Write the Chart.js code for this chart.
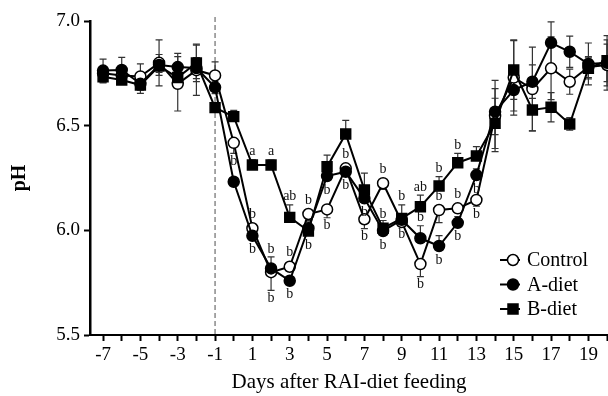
<!DOCTYPE html>
<html>
<head>
<meta charset="utf-8">
<script src="https://cdn.jsdelivr.net/npm/chart.js@4/dist/chart.umd.min.js"></script>
<style>
  html, body { margin: 0; padding: 0; background: #fff; }
  canvas { display: block; }
</style>
</head>
<body>
<canvas id="phChart" width="608" height="396"></canvas>
<script>
// days relative to RAI-diet feeding
const days = [-7, -6, -5, -4, -3, -2, -1, 0, 1, 2, 3, 4, 5, 6, 7, 8, 9, 10, 11, 12, 13, 14, 15, 16, 17, 18, 19, 20];

const controlPH = [6.75, 6.74, 6.735, 6.80, 6.70, 6.765, 6.74, 6.418, 6.01, 5.80, 5.826, 6.078, 6.10, 6.296,
    6.053, 6.225, 6.04, 5.839, 6.097, 6.105, 6.145, 6.546, 6.73, 6.675, 6.774, 6.71, 6.78, 6.79];
const aDietPH = [6.763, 6.766, 6.70, 6.79, 6.78, 6.775, 6.683, 6.232, 5.974, 5.818, 5.759, 6.01, 6.259, 6.28,
    6.153, 5.997, 6.05, 5.962, 5.925, 6.036, 6.264, 6.567, 6.67, 6.71, 6.896, 6.853, 6.795, 6.80];
const bDietPH = [6.734, 6.718, 6.694, 6.785, 6.73, 6.80, 6.586, 6.543, 6.312, 6.312, 6.062, 5.997, 6.304, 6.46,
    6.193, 6.01, 6.057, 6.113, 6.212, 6.323, 6.355, 6.511, 6.766, 6.575, 6.588, 6.508, 6.774, 6.81];

// standard errors
const controlSE = [0.03, 0.03, 0.06, 0.11, 0.13, 0.12, 0.065, 0.05, 0.055, 0.087, 0.02, 0.03, 0.04, 0.02,
    0.045, 0.03, 0.02, 0.06, 0.06, 0.02, 0.03, 0.17, 0.18, 0.2, 0.15, 0.06, 0.05, 0.1];
const aDietSE = [0.055, 0.06, 0.03, 0.05, 0.065, 0.05, 0.03, 0.02, 0.02, 0.055, 0.02, 0.03, 0.02, 0.02,
    0.02, 0.05, 0.03, 0.06, 0.05, 0.03, 0.03, 0.11, 0.1, 0.08, 0.1, 0.075, 0.1, 0.13];
const bDietSE = [0.03, 0.02, 0.04, 0.03, 0.04, 0.09, 0.02, 0.03, 0.025, 0.024, 0.06, 0.03, 0.055, 0.065,
    0.08, 0.02, 0.065, 0.055, 0.045, 0.045, 0.045, 0.12, 0.14, 0.1, 0.07, 0.03, 0.05, 0.1];

// significance letters: [day, series, letter, side]
const sigLetters = [
    [0, 'Control', 'b', 'down'],
    [1, 'B-diet', 'a', 'up'], [1, 'Control', 'b', 'up'], [1, 'A-diet', 'b', 'down'],
    [2, 'B-diet', 'a', 'up'], [2, 'A-diet', 'b', 'up'], [2, 'Control', 'b', 'down'],
    [3, 'B-diet', 'ab', 'up'], [3, 'Control', 'b', 'up'], [3, 'A-diet', 'b', 'down'],
    [4, 'Control', 'b', 'up'], [4, 'B-diet', 'b', 'down'],
    [5, 'A-diet', 'b', 'down'], [5, 'Control', 'b', 'down'],
    [6, 'Control', 'b', 'up'], [6, 'A-diet', 'b', 'down'],
    [7, 'A-diet', 'b', 'down'], [7, 'Control', 'b', 'down'],
    [8, 'Control', 'b', 'up'], [8, 'B-diet', 'b', 'up'], [8, 'A-diet', 'b', 'down'],
    [9, 'B-diet', 'b', 'up'], [9, 'A-diet', 'b', 'down'],
    [10, 'B-diet', 'ab', 'up'], [10, 'A-diet', 'b', 'up'], [10, 'Control', 'b', 'down'],
    [11, 'B-diet', 'b', 'up'], [11, 'Control', 'b', 'up'], [11, 'A-diet', 'b', 'down'],
    [12, 'B-diet', 'b', 'up'], [12, 'Control', 'b', 'up'], [12, 'A-diet', 'b', 'down'],
    [13, 'A-diet', 'b', 'down'], [13, 'Control', 'b', 'down']
];

const yTicks = [5.5, 6.0, 6.5, 7.0];
const feedingDay = -1;

const SERIF = '"Liberation Serif", "Times New Roman", serif';

const toPoints = (vals) => vals.map((v, i) => ({ x: days[i], y: v }));

// during feeding period bars are only drawn one way
const errDirection = (ds, day) => {
    if (day < 0 || day > 13) return { up: true, down: true };
    return ds.errSide === 'down' ? { up: false, down: true } : { up: true, down: false };
};

const errorBarsPlugin = {
    id: 'errorBars',
    beforeDatasetsDraw(chart) {
        const { ctx, scales: { x, y } } = chart;
        ctx.save();
        ctx.strokeStyle = '#333';
        ctx.lineWidth = 1.2;
        chart.data.datasets.forEach((ds) => {
            ds.errors.forEach((e, i) => {
                const day = days[i];
                const v = ds.data[i].y;
                const px = x.getPixelForValue(day);
                const dir = errDirection(ds, day);
                const top = y.getPixelForValue(dir.up ? v + e : v);
                const bot = y.getPixelForValue(dir.down ? v - e : v);
                ctx.beginPath();
                ctx.moveTo(px, top);
                ctx.lineTo(px, bot);
                if (dir.up) { ctx.moveTo(px - 3.5, top); ctx.lineTo(px + 3.5, top); }
                if (dir.down) { ctx.moveTo(px - 3.5, bot); ctx.lineTo(px + 3.5, bot); }
                ctx.stroke();
            });
        });
        ctx.restore();
    }
};

const feedingLinePlugin = {
    id: 'feedingLine',
    beforeDatasetsDraw(chart) {
        const { ctx, chartArea, scales: { x } } = chart;
        const px = x.getPixelForValue(feedingDay);
        ctx.save();
        ctx.strokeStyle = '#8a8a8a';
        ctx.lineWidth = 1.5;
        ctx.setLineDash([5, 3]);
        ctx.beginPath();
        ctx.moveTo(px, chartArea.top - 4);
        ctx.lineTo(px, chartArea.bottom);
        ctx.stroke();
        ctx.restore();
    }
};

const lettersPlugin = {
    id: 'sigLetters',
    afterDatasetsDraw(chart) {
        const { ctx, scales: { x, y } } = chart;
        ctx.save();
        ctx.fillStyle = '#111';
        ctx.font = '14px ' + SERIF;
        ctx.textAlign = 'center';
        sigLetters.forEach(([day, name, txt, side]) => {
            const ds = chart.data.datasets.find(d => d.label === name);
            const i = days.indexOf(day);
            const v = ds.data[i].y;
            const e = ds.errors[i];
            const dir = errDirection(ds, day);
            const px = x.getPixelForValue(day);
            const py = y.getPixelForValue(v);
            if (side === 'up') {
                const t = Math.min(py - 6, dir.up ? y.getPixelForValue(v + e) : py);
                ctx.textBaseline = 'bottom';
                ctx.fillText(txt, px, t - 1);
            } else {
                const b = Math.max(py + 6, dir.down ? y.getPixelForValue(v - e) : py);
                ctx.textBaseline = 'top';
                ctx.fillText(txt, px, b + 1);
            }
        });
        ctx.restore();
    }
};

const legendPlugin = {
    id: 'insideLegend',
    afterDraw(chart) {
        const { ctx, chartArea } = chart;
        ctx.save();
        ctx.font = '20px ' + SERIF;
        ctx.textBaseline = 'middle';
        ctx.fillStyle = '#000';
        chart.data.datasets.forEach((ds, i) => {
            const cy = chartArea.bottom - 75 + i * 24.5;
            const cx = chartArea.right - 95;
            ctx.strokeStyle = '#000';
            ctx.lineWidth = 2;
            ctx.beginPath();
            ctx.moveTo(cx - 13, cy);
            ctx.lineTo(cx + 7, cy);
            ctx.stroke();
            ctx.beginPath();
            if (ds.pointStyle === 'rect') {
                ctx.rect(cx - 5, cy - 5, 10, 10);
            } else {
                ctx.arc(cx, cy, 5.5, 0, Math.PI * 2);
            }
            ctx.fillStyle = ds.pointBackgroundColor;
            ctx.fill();
            ctx.lineWidth = 1.5;
            ctx.stroke();
            ctx.fillStyle = '#000';
            ctx.fillText(ds.label, cx + 14, cy + 1);
        });
        ctx.restore();
    }
};

const baseSet = {
    borderColor: '#000',
    borderWidth: 2,
    tension: 0,
    clip: false,
    pointBorderColor: '#000',
    pointBorderWidth: 1.5,
    pointHoverRadius: 6
};

new Chart(document.getElementById('phChart'), {
    type: 'line',
    data: {
        datasets: [
            {
                ...baseSet,
                label: 'Control',
                data: toPoints(controlPH),
                errors: controlSE,
                errSide: 'down',
                pointStyle: 'circle',
                pointRadius: 5.5,
                pointBackgroundColor: '#fff',
                order: 3
            },
            {
                ...baseSet,
                label: 'A-diet',
                data: toPoints(aDietPH),
                errors: aDietSE,
                errSide: 'up',
                pointStyle: 'circle',
                pointRadius: 5.5,
                pointBackgroundColor: '#000',
                order: 2
            },
            {
                ...baseSet,
                label: 'B-diet',
                data: toPoints(bDietPH),
                errors: bDietSE,
                errSide: 'up',
                pointStyle: 'rect',
                pointRadius: 7,
                pointBackgroundColor: '#000',
                order: 1
            }
        ]
    },
    options: {
        responsive: false,
        animation: false,
        devicePixelRatio: 1,
        layout: { autoPadding: false, padding: { top: 21, right: 0, left: 0, bottom: 0 } },
        plugins: {
            legend: { display: false },
            tooltip: { enabled: false }
        },
        scales: {
            x: {
                type: 'linear',
                min: -7.7,
                max: 20.05,
                afterFit: (scale) => {
                    scale.height = 61;
                    scale.paddingLeft = 0;
                    scale.paddingRight = 0;
                },
                afterBuildTicks: (scale) => {
                    scale.ticks = days.map(d => ({ value: d }));
                },
                ticks: {
                    autoSkip: false,
                    maxRotation: 0,
                    padding: 3,
                    color: '#000',
                    font: { family: SERIF, size: 19 },
                    callback: (value) => (Math.abs(value % 2) === 1 && value < 20 ? String(value) : '')
                },
                grid: {
                    drawOnChartArea: false,
                    drawTicks: true,
                    tickLength: 6,
                    tickWidth: 2,
                    tickColor: '#000'
                },
                border: { display: true, color: '#000', width: 2 },
                title: {
                    display: true,
                    text: 'Days after RAI-diet feeding',
                    color: '#000',
                    font: { family: SERIF, size: 21 },
                    padding: { top: 0, bottom: 1 }
                }
            },
            y: {
                min: 5.5,
                max: 7.0,
                afterFit: (scale) => { scale.width = 90; },
                afterBuildTicks: (scale) => {
                    scale.ticks = yTicks.map(v => ({ value: v }));
                },
                ticks: {
                    padding: 4,
                    color: '#000',
                    font: { family: SERIF, size: 19 },
                    callback: (value) => Number(value).toFixed(1)
                },
                grid: {
                    drawOnChartArea: false,
                    drawTicks: true,
                    tickLength: 6,
                    tickWidth: 2,
                    tickColor: '#000'
                },
                border: { display: true, color: '#000', width: 2.5 },
                title: {
                    display: true,
                    text: 'pH',
                    color: '#000',
                    font: { family: SERIF, size: 20, weight: 'bold' },
                    padding: { top: 8, bottom: 0 }
                }
            }
        }
    },
    plugins: [feedingLinePlugin, errorBarsPlugin, lettersPlugin, legendPlugin]
});
</script>
</body>
</html>
